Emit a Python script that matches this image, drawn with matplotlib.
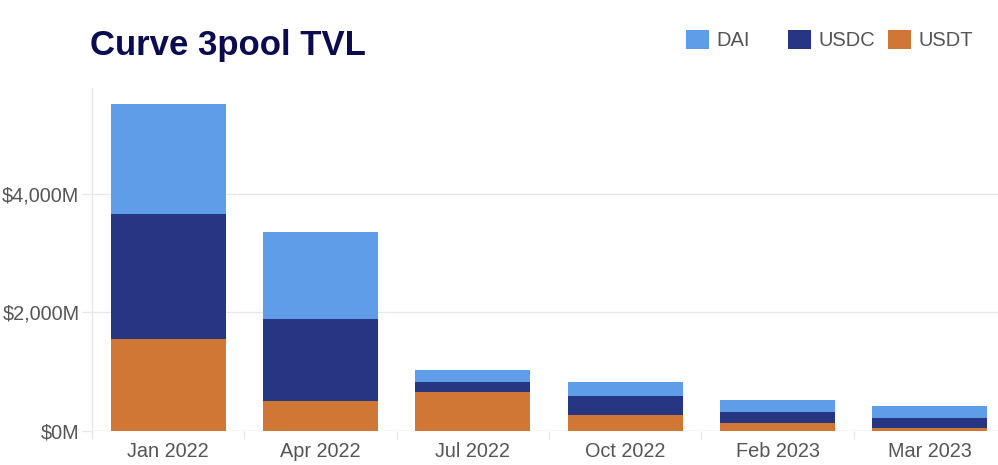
import numpy as np
import matplotlib
matplotlib.use("Agg")
import matplotlib.pyplot as plt
from matplotlib.ticker import FuncFormatter, FixedLocator

# values in $M
periods = ["Jan 2022", "Apr 2022", "Jul 2022", "Oct 2022", "Feb 2023", "Mar 2023"]
usdt = [1555, 507, 659, 270, 130, 41]
usdc = [2109, 1381, 169, 305, 191, 169]
dai = [1859, 1463, 198, 253, 198, 196]

col_dai = "#5f9de8"
col_usdc = "#263682"
col_usdt = "#d17735"
grey = "#e8e8e8"

plt.rcParams["font.family"] = ["Liberation Sans", "DejaVu Sans"]

fig = plt.figure(figsize=(9.98, 4.65), dpi=100)
ax = fig.add_axes([92 / 998, 1 - 430.5 / 465, 906 / 998, (430.5 - 88) / 465])

x = np.arange(len(periods))
w = 0.755
usdt_a = np.array(usdt)
usdc_a = np.array(usdc)
dai_a = np.array(dai)

b_dai = ax.bar(x, dai_a, w, bottom=usdt_a + usdc_a, color=col_dai, label="DAI", zorder=3)
b_usdc = ax.bar(x, usdc_a, w, bottom=usdt_a, color=col_usdc, label="USDC", zorder=3)
b_usdt = ax.bar(x, usdt_a, w, color=col_usdt, label="USDT", zorder=3)

ax.set_xlim(-0.5, 5.5 - 8 / 152)
ax.set_ylim(0, (430.5 - 88) / 118.3 * 2000)

ax.set_yticks([0, 2000, 4000])
ax.yaxis.set_major_formatter(FuncFormatter(lambda v, p: "${:,.0f}M".format(v)))
ax.set_xticks(x)
ax.set_xticklabels(periods)
ax.xaxis.set_minor_locator(FixedLocator(np.arange(-0.5, 6, 1)))

ax.tick_params(axis="x", which="major", length=0, pad=8, labelsize=14.3, labelcolor="#555555")
ax.tick_params(axis="x", which="minor", length=6, color=grey, width=1)
ax.tick_params(axis="y", length=7, color=grey, width=1, pad=2, labelsize=14.3, labelcolor="#555555")

ax.grid(axis="y", color=grey, linewidth=1, zorder=0)
for s in ["top", "right", "bottom"]:
    ax.spines[s].set_visible(False)
ax.spines["left"].set_color(grey)
ax.spines["left"].set_linewidth(1)
ax.axhline(0, color=grey, linewidth=1, zorder=2)

fig.text(90 / 998, 1 - 46 / 465, "Curve 3pool TVL", fontsize=25, fontweight="bold",
         color="#0b0b50", va="center", ha="left")

# one legend per entry so the entries sit at fixed spacing like the original
for bars, name, lx in [(b_dai, "DAI", 686), (b_usdc, "USDC", 788), (b_usdt, "USDT", 888)]:
    fig.legend([bars], [name], loc="center left", bbox_to_anchor=(lx / 998, 1 - 40 / 465),
               frameon=False, fontsize=14.5, handlelength=1.14, handleheight=1.14,
               handletextpad=0.35, labelcolor="#555555", borderaxespad=0, borderpad=0)

fig.savefig("out.png", dpi=100)
